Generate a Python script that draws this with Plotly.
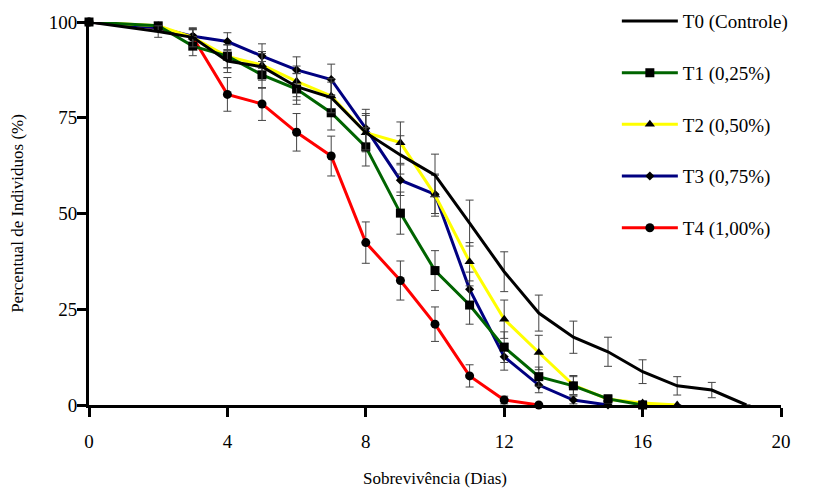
import plotly.graph_objects as go

# ---- data ----
days_t0 = [0, 2, 3, 4, 5, 6, 7, 8, 9, 10, 11, 12, 13, 14, 15, 16, 17, 18, 19]
t0 = [100, 97.5, 96, 89.8, 88.3, 83.1, 80.3, 71.1, 65.3, 60, 47.5, 34.8, 24, 17.7, 13.9, 8.7, 5.0, 3.9, 0]
t0_err = [0, 1.5, 2.5, 3, 3.5, 3.5, 4, 4.5, 5, 5.5, 6, 5.2, 4.7, 4.2, 3.8, 3.1, 2.4, 2, 0]

days_t1 = [0, 2, 3, 4, 5, 6, 7, 8, 9, 10, 11, 12, 13, 14, 15, 16]
t1 = [100, 99, 93.7, 91.1, 86.2, 82.5, 76.3, 67.4, 50.1, 35.1, 26.1, 15.1, 7.4, 5.0, 1.6, 0]
t1_err = [0, 1, 2.5, 3, 3.5, 4, 4.5, 5, 5.5, 5.2, 5, 4, 2.5, 2.4, 1, 0]

days_t2 = [0, 2, 3, 4, 5, 6, 7, 8, 9, 10, 11, 12, 13, 14, 15, 16, 17]
t2 = [100, 99, 96, 91, 88.8, 84.5, 80.7, 71.1, 68.5, 54.8, 37.4, 22.4, 13.7, 5.2, 1.5, 0.5, 0]
t2_err = [0, 1, 2, 3, 3.5, 4, 4.5, 5, 5.4, 5.5, 5, 5, 4.5, 2.5, 1, 0.5, 0]

days_t3 = [0, 2, 3, 4, 5, 6, 7, 8, 9, 10, 11, 12, 13, 14, 15]
t3 = [100, 98.5, 96.3, 94.9, 91.1, 87.5, 85.0, 72.2, 58.7, 55, 30.2, 12.6, 5.2, 1.3, 0]
t3_err = [0, 1, 2, 2.3, 3.2, 3.4, 4, 5, 4, 5, 4.5, 3.5, 2, 1, 0]

days_t4 = [0, 2, 3, 4, 5, 6, 7, 8, 9, 10, 11, 12, 13]
t4 = [100, 98.5, 96, 81.1, 78.6, 71.2, 65, 42.4, 32.5, 21.1, 7.6, 1.3, 0]
t4_err = [0, 1, 2, 4.4, 4.3, 4.9, 5.2, 5.4, 5.1, 4.5, 2.9, 1, 0]

names = ["T0 (Controle)", "T1 (0,25%)", "T2 (0,50%)", "T3 (0,75%)", "T4 (1,00%)"]
x_ticks = [0, 4, 8, 12, 16, 20]
y_ticks = [0, 25, 50, 75, 100]

FONT = "Liberation Serif"

series = [
    (days_t4, t4, t4_err, names[4], "#ff0000", "circle", 9, 5),
    (days_t3, t3, t3_err, names[3], "#000080", "diamond", 7, 4),
    (days_t2, t2, t2_err, names[2], "#ffff00", "triangle-up", 9, 3),
    (days_t1, t1, t1_err, names[1], "#006400", "square", 9, 2),
    (days_t0, t0, t0_err, names[0], "#000000", None, 0, 1),
]

fig = go.Figure()
for xs, ys, es, nm, col, sym, sz, rank in series:
    mode = "lines+markers" if sym else "lines"
    marker = dict(symbol=sym, size=sz, color="#000000") if sym else None
    fig.add_trace(go.Scatter(
        x=xs, y=ys, name=nm, mode=mode,
        line=dict(color=col, width=3),
        marker=marker,
        error_y=dict(type="data", array=es, color="#444444", thickness=1, width=4),
        cliponaxis=False,
        legendrank=rank,
        legendgroup=nm,
    ))

# page body has an 8px margin, so the figure is 8px smaller than the window
fig.update_layout(
    width=825, height=480,
    margin=dict(l=81, r=52, t=14, b=83, autoexpand=False),
    paper_bgcolor="white", plot_bgcolor="white",
    font=dict(family=FONT, size=19, color="#000000"),
    showlegend=True,
    legend=dict(
        xref="container", yref="paper",
        x=0.738, y=1.052, xanchor="left", yanchor="top",
        font=dict(family=FONT, size=19),
        tracegroupgap=24, itemwidth=56, maxheight=480,
        bgcolor="rgba(0,0,0,0)",
    ),
    xaxis=dict(
        range=[0, 20], tickvals=x_ticks, ticktext=[str(v) for v in x_ticks],
        showgrid=False, zeroline=False, showline=True, linecolor="#000000", linewidth=3,
        ticks="outside", ticklen=9, tickwidth=3, tickcolor="#000000",
        ticklabelstandoff=8, automargin=False,
        title=dict(text="Sobrevivência (Dias)", font=dict(family=FONT, size=17), standoff=24),
    ),
    yaxis=dict(
        range=[0, 100], tickvals=y_ticks, ticktext=[str(v) for v in y_ticks],
        showgrid=False, zeroline=False, showline=True, linecolor="#000000", linewidth=3,
        ticks="outside", ticklen=9, tickwidth=3, tickcolor="#000000",
        ticklabelstandoff=-4, automargin=False,
        title=dict(text="Percentual de Individuos (%)", font=dict(family=FONT, size=17), standoff=22),
    ),
)

fig.write_html("out.html")
